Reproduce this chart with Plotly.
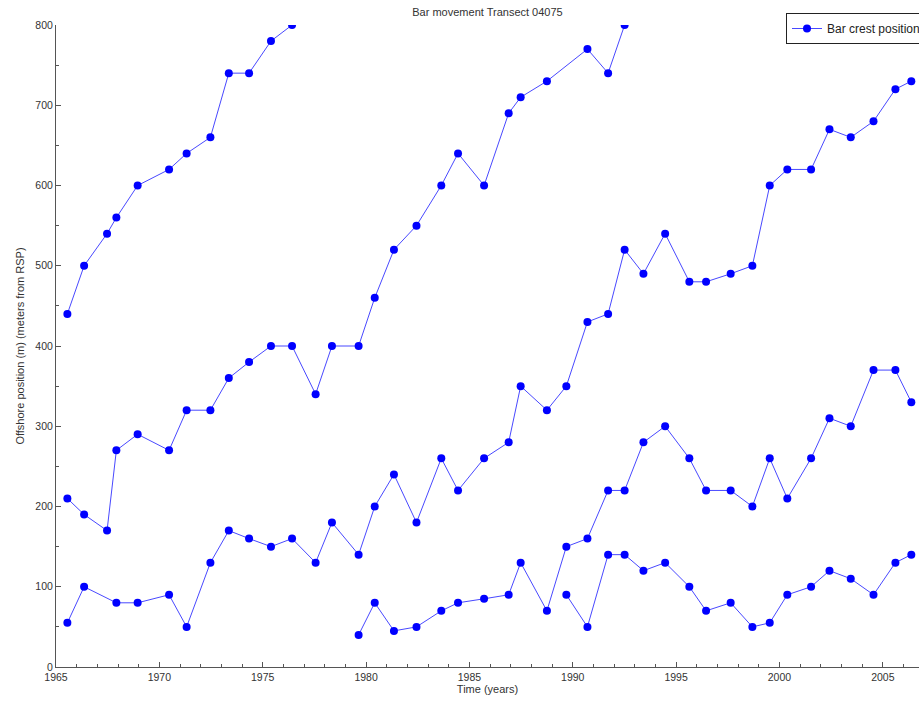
import plotly.graph_objects as go

# Survey dates (decimal years) and bar crest positions, one list per bar
bar1_years = [1965.55, 1966.36, 1967.47, 1967.92, 1968.95, 1970.47, 1971.32, 1972.47,
              1973.36, 1974.34, 1975.40, 1976.42]
bar1_pos = [440, 500, 540, 560, 600, 620, 640, 660, 740, 740, 780, 800]

bar2_years = [1965.55, 1966.36, 1967.47, 1967.92, 1968.95, 1970.47, 1971.32, 1972.47,
              1973.36, 1974.34, 1975.40, 1976.42, 1977.56, 1978.35, 1979.64, 1980.42,
              1981.35, 1982.44, 1983.64, 1984.45, 1985.71, 1986.90, 1987.48, 1988.75,
              1990.71, 1991.71, 1992.51]
bar2_pos = [210, 190, 170, 270, 290, 270, 320, 320, 360, 380, 400, 400, 340, 400, 400, 460,
            520, 550, 600, 640, 600, 690, 710, 730, 770, 740, 800]

bar3_years = [1965.55, 1966.36, 1967.92, 1968.95, 1970.47, 1971.32, 1972.47, 1973.36,
              1974.34, 1975.40, 1976.42, 1977.56, 1978.35, 1979.64, 1980.42, 1981.35,
              1982.44, 1983.64, 1984.45, 1985.71, 1986.90, 1987.48, 1988.75, 1989.69,
              1990.71, 1991.71, 1992.51, 1993.42, 1994.47, 1995.64, 1996.45, 1997.64,
              1998.69, 1999.53, 2000.38, 2001.53, 2002.42, 2003.45, 2004.55, 2005.61,
              2006.38]
bar3_pos = [55, 100, 80, 80, 90, 50, 130, 170, 160, 150, 160, 130, 180, 140, 200, 240,
            180, 260, 220, 260, 280, 350, 320, 350, 430, 440, 520, 490, 540, 480, 480, 490,
            500, 600, 620, 620, 670, 660, 680, 720, 730]

bar4_years = [1979.64, 1980.42, 1981.35, 1982.44, 1983.64, 1984.45, 1985.71, 1986.90,
              1987.48, 1988.75, 1989.69, 1990.71, 1991.71, 1992.51, 1993.42, 1994.47,
              1995.64, 1996.45, 1997.64, 1998.69, 1999.53, 2000.38, 2001.53, 2002.42,
              2003.45, 2004.55, 2005.61, 2006.38]
bar4_pos = [40, 80, 45, 50, 70, 80, 85, 90, 130, 70, 150, 160, 220, 220, 280, 300,
            260, 220, 220, 200, 260, 210, 260, 310, 300, 370, 370, 330]

bar5_years = [1989.69, 1990.71, 1991.71, 1992.51, 1993.42, 1994.47, 1995.64, 1996.45,
              1997.64, 1998.69, 1999.53, 2000.38, 2001.53, 2002.42, 2003.45, 2004.55,
              2005.61, 2006.38]
bar5_pos = [90, 50, 140, 140, 120, 130, 100, 70, 80, 50, 55, 90, 100, 120, 110, 90,
            130, 140]

x_ticks = [1965, 1970, 1975, 1980, 1985, 1990, 1995, 2000, 2005]
y_ticks = [0, 100, 200, 300, 400, 500, 600, 700, 800]

# Join all bars into one gapped series so they share a single legend entry
xs, ys = [], []
for yr, pos in [(bar1_years, bar1_pos), (bar2_years, bar2_pos), (bar3_years, bar3_pos),
                (bar4_years, bar4_pos), (bar5_years, bar5_pos)]:
    xs += yr + [None]
    ys += pos + [None]

fig = go.Figure()
fig.add_trace(go.Scatter(
    x=xs, y=ys, mode="lines+markers", name="Bar crest position",
    connectgaps=False,
    line=dict(color="rgba(40,40,255,0.85)", width=1),
    marker=dict(color="#0000FF", size=8, symbol="circle"),
))

axis_col = "#555555"
font_col = "#333333"
left, right, top, bottom = 56, 0, 25, 34
W, H = 919, 701
px_per_year = 20.67
x_end = 1965 + (W - left - right) / px_per_year

fig.update_layout(
    width=W, height=H,
    margin=dict(l=left, r=right, t=top, b=bottom, autoexpand=False),
    paper_bgcolor="white", plot_bgcolor="white",
    font=dict(family="Liberation Sans, Arial, sans-serif", size=10, color=font_col),
    title=dict(text="Bar movement Transect 04075", x=0.5, xref="paper",
               y=1 - 12.5 / H, yref="container", yanchor="middle",
               font=dict(size=11, color=font_col)),
    showlegend=True,
    legend=dict(x=(786 - left) / (W - left - right), y=1 + 12 / (H - top - bottom),
                xanchor="left", yanchor="top",
                bgcolor="white", bordercolor="#222222", borderwidth=1,
                font=dict(size=12, color="#222222"),
                tracegroupgap=0, itemwidth=30),
    xaxis=dict(
        range=[1965, x_end], tickvals=x_ticks, ticktext=[str(t) for t in x_ticks],
        showgrid=False, zeroline=False,
        showline=True, linecolor=axis_col, linewidth=1,
        ticks="inside", ticklen=5, tickcolor=axis_col, tickwidth=1,
        minor=dict(dtick=1, tick0=1965, ticks="inside", ticklen=3,
                   tickcolor=axis_col, showgrid=False),
        title=dict(text="Time (years)", font=dict(size=11, color=font_col), standoff=2),
        tickfont=dict(size=10.5, color=font_col),
    ),
    yaxis=dict(
        range=[0, 800], tickvals=y_ticks, ticktext=[str(t) for t in y_ticks],
        showgrid=False, zeroline=False,
        showline=True, linecolor=axis_col, linewidth=1,
        ticks="inside", ticklen=5, tickcolor=axis_col, tickwidth=1,
        minor=dict(dtick=50, tick0=0, ticks="inside", ticklen=3,
                   tickcolor=axis_col, showgrid=False),
        title=dict(text="Offshore position (m) (meters from RSP)",
                   font=dict(size=11, color=font_col), standoff=8),
        tickfont=dict(size=10.5, color=font_col),
    ),
)

fig.write_html("out.html")
